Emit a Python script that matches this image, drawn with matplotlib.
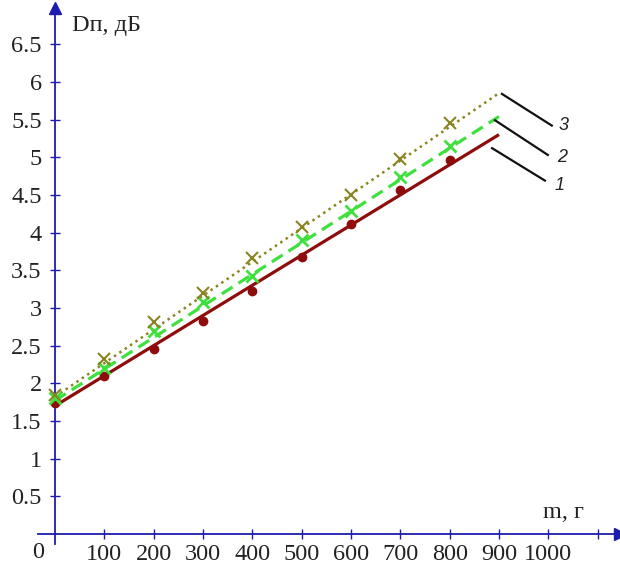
import matplotlib
matplotlib.use("Agg")
import matplotlib.pyplot as plt

# Data
m_vals = [0, 100, 200, 300, 400, 500, 600, 700, 800]
d1 = [1.74, 2.10, 2.46, 2.83, 3.23, 3.68, 4.11, 4.57, 4.96]
d2 = [1.80, 2.20, 2.70, 3.08, 3.43, 3.90, 4.28, 4.74, 5.15]
d3 = [1.84, 2.32, 2.82, 3.20, 3.66, 4.08, 4.50, 4.98, 5.45]
trend_m = [0, 900]
trend1 = [1.70, 5.30]
trend2 = [1.77, 5.54]
trend3 = [1.82, 5.85]
xticks = [100, 200, 300, 400, 500, 600, 700, 800, 900, 1000, 1100]
xtick_labels = ["100", "200", "300", "400", "500", "600", "700", "800", "900", "1000", ""]
yticks = [0.5, 1, 1.5, 2, 2.5, 3, 3.5, 4, 4.5, 5, 5.5, 6, 6.5]
ytick_labels = ["0.5", "1", "1.5", "2", "2.5", "3", "3.5", "4", "4.5", "5", "5.5", "6", "6.5"]
curve_labels = ["1", "2", "3"]

AX = "#1c1cb0"
RED = "#8e0c0c"
GREEN = "#3ee03e"
OLIVE = "#8a8420"
TXT = "#222222"
FS = 17.5

plt.rcParams['font.family'] = ['Liberation Serif', 'DejaVu Serif']

fig = plt.figure(figsize=(6.2, 5.64), dpi=100)
ax = fig.add_axes([0.0608, 0.0358, 0.939, 0.950])
ax.set_xlim(-35, 1145)
ax.set_ylim(-0.13, 6.98)

for s in ['top', 'right']:
    ax.spines[s].set_visible(False)
ax.spines['bottom'].set_position(('data', 0))
ax.spines['left'].set_position(('data', 0))
for s in ['bottom', 'left']:
    ax.spines[s].set_color(AX)
    ax.spines[s].set_linewidth(1.3)

ax.set_xticks(xticks)
ax.set_xticklabels(xtick_labels)
ax.set_yticks(yticks)
ax.set_yticklabels(ytick_labels)
ax.tick_params(axis='both', direction='inout', length=7, width=1, color=AX,
               labelsize=FS, labelcolor=TXT)
ax.tick_params(axis='x', pad=4)
ax.tick_params(axis='y', pad=6)

# arrows
ax.plot([1145], [0], marker='>', color=AX, markersize=9, clip_on=False, zorder=5)
ax.plot([0], [6.98], marker='^', color=AX, markersize=9, clip_on=False, zorder=5)

ax.text(-34, -0.11, "0", ha='center', va='top', fontsize=FS, color=TXT)
ax.text(35, 6.75, "Dп, дБ", ha='left', va='center', fontsize=FS, color=TXT)
ax.text(1030, 0.29, "m, г", ha='center', va='center', fontsize=FS, color=TXT)

# trend lines
ax.plot(trend_m, trend1, color=RED, lw=2.3, solid_capstyle='butt', zorder=3)
ax.plot(trend_m, trend2, color=GREEN, lw=2.3, ls=(0, (4, 2.2)), zorder=3)
ax.plot(trend_m, trend3, color=OLIVE, lw=1.8, ls=(0, (1, 1.6)), zorder=3)

# points
ax.plot(m_vals, d1, ls='none', marker='o', color=RED, markersize=6, zorder=4)
ax.plot(m_vals, d2, ls='none', marker='x', color=GREEN, markersize=9, mew=2, zorder=4)
ax.plot(m_vals, d3, ls='none', marker='x', color=OLIVE, markersize=9, mew=1.5, zorder=4)

# leader lines
leaders = [((886, 5.12), (993, 4.69), (1022, 4.63)),
           ((892, 5.49), (999, 5.03), (1028, 5.00)),
           ((906, 5.84), (1007, 5.42), (1030, 5.42))]
for (p0, p1, pl), lab in zip(leaders, curve_labels):
    ax.plot([p0[0], p1[0]], [p0[1], p1[1]], color='#111111', lw=1.6, zorder=3)
    ax.text(pl[0], pl[1], lab, ha='center', va='center', fontsize=13,
            style='italic', family=['Liberation Sans', 'DejaVu Sans'], color=TXT)

fig.savefig("out.png", dpi=100)
